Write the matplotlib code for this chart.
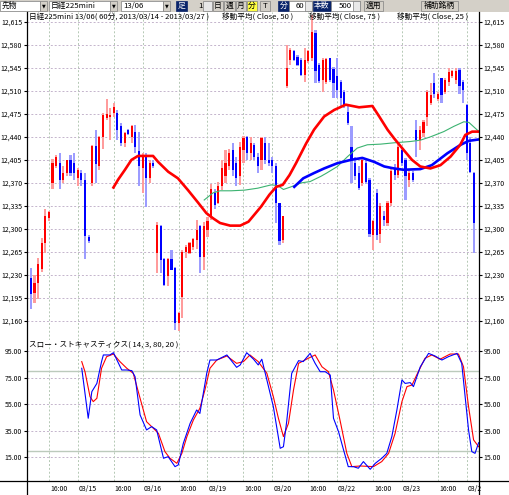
import matplotlib
matplotlib.use('Agg')
import matplotlib.pyplot as plt
from matplotlib.patches import Rectangle
from matplotlib.lines import Line2D
import numpy as np

plt.rcParams['font.family'] = ['Noto Sans CJK JP', 'DejaVu Sans']

# ---------------- data ----------------
opens = [12262, 12226, 12203, 12218, 12239, 12279, 12316, 12370, 12395, 12400,
         12375, 12385, 12405, 12400, 12378, 12385, 12375, 12287, 12370, 12426,
         12395, 12440, 12468, 12470, 12476, 12476, 12456, 12430, 12450, 12440,
         12448, 12418, 12392, 12410, 12378, 12400, 12263, 12304, 12254, 12228,
         12254, 12240, 12157, 12197, 12265, 12264, 12272, 12283, 12304, 12258,
         12298, 12318, 12354, 12340, 12365, 12380, 12395, 12420, 12400, 12380,
         12420, 12440, 12415, 12428, 12410, 12405, 12430, 12405, 12405, 12395,
         12339, 12283, 12518, 12557, 12570, 12562, 12557, 12534, 12555, 12560,
         12598, 12550, 12527, 12524, 12560, 12544, 12532, 12524, 12509, 12478,
         12425, 12400, 12385, 12370, 12400, 12375, 12290, 12354, 12293, 12320,
         12309, 12339, 12392, 12382, 12420, 12405, 12375, 12385, 12451, 12435,
         12446, 12471, 12491, 12522, 12497, 12529, 12509, 12524, 12532, 12527,
         12542, 12524, 12489, 12430, 12385]
highs = [12277, 12240, 12230, 12256, 12286, 12330, 12328, 12406, 12413, 12416,
         12395, 12405, 12412, 12416, 12393, 12390, 12385, 12290, 12428, 12451,
         12441, 12476, 12497, 12484, 12492, 12481, 12461, 12448, 12452, 12458,
         12458, 12448, 12415, 12416, 12405, 12405, 12311, 12306, 12256, 12256,
         12268, 12242, 12174, 12268, 12275, 12280, 12286, 12314, 12306, 12310,
         12318, 12368, 12360, 12372, 12405, 12420, 12422, 12430, 12410, 12432,
         12441, 12442, 12440, 12430, 12415, 12440, 12440, 12430, 12410, 12400,
         12340, 12320, 12580, 12575, 12572, 12564, 12560, 12575, 12572, 12625,
         12602, 12552, 12560, 12560, 12560, 12547, 12560, 12526, 12512, 12490,
         12456, 12410, 12395, 12410, 12405, 12378, 12314, 12360, 12340, 12328,
         12342, 12392, 12398, 12430, 12425, 12408, 12390, 12388, 12466, 12456,
         12466, 12512, 12522, 12537, 12508, 12530, 12530, 12545, 12542, 12545,
         12545, 12527, 12490, 12440, 12386]
lows = [12218, 12178, 12188, 12194, 12234, 12264, 12312, 12360, 12392, 12360,
        12370, 12380, 12380, 12375, 12365, 12365, 12254, 12279, 12365, 12370,
        12390, 12421, 12465, 12436, 12470, 12436, 12426, 12425, 12443, 12430,
        12415, 12365, 12354, 12334, 12370, 12392, 12233, 12233, 12213, 12213,
        12237, 12146, 12144, 12164, 12255, 12262, 12268, 12270, 12233, 12238,
        12288, 12314, 12330, 12338, 12359, 12370, 12390, 12380, 12365, 12367,
        12400, 12405, 12405, 12405, 12385, 12390, 12398, 12395, 12385, 12309,
        12276, 12278, 12514, 12550, 12555, 12548, 12532, 12524, 12552, 12555,
        12522, 12522, 12509, 12520, 12524, 12499, 12499, 12486, 12484, 12458,
        12370, 12375, 12359, 12365, 12368, 12288, 12268, 12283, 12278, 12305,
        12305, 12335, 12375, 12378, 12395, 12344, 12364, 12372, 12410, 12420,
        12440, 12456, 12489, 12499, 12495, 12491, 12505, 12518, 12530, 12520,
        12506, 12491, 12405, 12385, 12263]
closes = [12222, 12201, 12218, 12246, 12279, 12320, 12326, 12400, 12410, 12375,
          12385, 12405, 12385, 12385, 12390, 12375, 12289, 12281, 12426, 12398,
          12440, 12474, 12475, 12474, 12486, 12451, 12430, 12446, 12445, 12456,
          12425, 12395, 12410, 12378, 12400, 12395, 12306, 12253, 12215, 12254,
          12238, 12157, 12172, 12265, 12273, 12278, 12284, 12298, 12258, 12305,
          12312, 12360, 12336, 12365, 12392, 12400, 12415, 12390, 12378, 12425,
          12438, 12415, 12430, 12410, 12395, 12438, 12405, 12400, 12395, 12339,
          12281, 12319, 12545, 12572, 12557, 12550, 12534, 12557, 12570, 12600,
          12540, 12525, 12557, 12558, 12526, 12522, 12511, 12499, 12489, 12461,
          12405, 12380, 12362, 12405, 12372, 12292, 12312, 12290, 12335, 12314,
          12339, 12388, 12382, 12425, 12400, 12380, 12385, 12375, 12435, 12451,
          12463, 12509, 12504, 12506, 12506, 12504, 12527, 12539, 12540, 12540,
          12517, 12511, 12415, 12387, 12309]

ma25_x = [23.9, 25.2, 27.1, 28.9, 30.7, 34.9, 36.3, 39.1, 41.8, 44.6, 47.4, 49.7, 51.6,
          53.5, 56.3, 59.1, 61.4, 64.9, 67.2, 69.1, 70.9, 72.8, 74.6, 77.4, 79.6, 82.4,
          85.2, 88.4, 92.1, 95.8, 97.7, 100.0, 101.8, 104.5, 106.8, 109.1, 111.9, 114.7,
          117.5, 120.2, 121.6, 123.5, 125.2]
ma25_v = [12363, 12375, 12390, 12405, 12411, 12411, 12402, 12387, 12377, 12359, 12340,
          12324, 12316, 12309, 12305, 12305, 12311, 12334, 12352, 12364, 12367, 12382,
          12400, 12430, 12451, 12471, 12481, 12489, 12485, 12487, 12471, 12451, 12438,
          12420, 12405, 12395, 12392, 12397, 12410, 12428, 12443, 12448, 12448]

ma50_x = [49.1, 51.6, 53.5, 56.6, 60.3, 64.0, 67.7, 69.5, 71.1, 73.2, 76.0, 78.5, 81.5,
          83.1, 86.1, 88.9, 91.6, 94.4, 98.1, 101.8, 106.4, 109.1, 111.9, 115.6, 118.4,
          121.2, 122.6, 125.2]
ma50_v = [12344, 12355, 12358, 12358, 12359, 12362, 12367, 12366, 12360, 12364, 12370,
          12372, 12380, 12385, 12395, 12410, 12423, 12428, 12429, 12431, 12433, 12435,
          12440, 12448, 12456, 12463, 12462, 12449]

ma75_x = [74.1, 76.6, 79.6, 82.4, 86.1, 89.8, 93.0, 96.3, 99.1, 101.8, 104.4, 109.1,
          112.3, 116.6, 120.3, 122.6, 125.2]
ma75_v = [12364, 12377, 12385, 12392, 12400, 12405, 12408, 12402, 12395, 12392, 12390,
          12391, 12397, 12415, 12428, 12434, 12436]

k_x = [15.1, 16.9, 17.9, 19.3, 20.6, 21.1, 22.9, 23.9, 26.2, 27.6, 29.0, 29.9, 31.3,
       33.1, 34.5, 35.9, 37.8, 39.1, 41.0, 41.9, 43.3, 45.2, 47.0, 47.9, 49.8, 50.7,
       52.6, 55.4, 58.1, 59.1, 60.9, 62.8, 64.1, 65.1, 66.5, 68.3, 70.2, 71.1, 72.0,
       73.4, 75.3, 76.6, 78.5, 79.9, 81.3, 82.7, 84.1, 85.0, 86.4, 87.8, 89.1, 90.5,
       91.9, 93.3, 95.2, 96.6, 98.4, 99.8, 101.2, 102.6, 104.0, 104.9, 106.3, 107.2,
       109.1, 111.4, 113.2, 115.1, 116.9, 119.3, 120.6, 122.5, 123.4, 124.3, 125.3]
k_v = [82, 44.4, 64.4, 70.6, 87, 92, 92, 93.7, 80.7, 80.7, 80.2, 75.7, 46.9,
       35.6, 38.1, 35.6, 14.3, 15.5, 8, 9.3, 25.5, 40.6, 50.6, 48, 78.2, 88.2,
       88.2, 92, 82.7, 84.5, 93.7, 88.8, 84.5, 88.8, 73.2, 53.1, 21.8, 23, 41.8,
       78.2, 87.7, 87, 93.2, 85.7, 79.4, 79.4, 76.9, 44.4, 34.3, 20.5, 8, 8,
       6.8, 11.8, 6, 10.5, 14.3, 18, 30.6, 50.6, 73.2, 70.6, 71.2, 68.2,
       83.1, 93.2, 91.2, 88.2, 90.7, 93.2, 85.7, 35.6, 19.3, 18, 26]

d_x = [15.1, 16.0, 17.4, 18.3, 19.3, 20.6, 22.0, 23.9, 25.7, 27.6, 29.4, 31.3, 33.1,
       35.0, 36.4, 38.2, 39.6, 41.5, 42.9, 44.3, 46.1, 47.9, 49.3, 50.7, 52.6, 55.4,
       58.1, 60.0, 61.8, 64.1, 66.5, 68.3, 69.7, 71.1, 72.5, 73.9, 75.3, 78.0, 79.9,
       81.8, 83.6, 85.0, 86.8, 88.7, 90.1, 92.4, 96.1, 98.4, 100.3, 102.1, 104.0,
       105.4, 106.8, 108.1, 110.4, 112.3, 114.6, 117.4, 119.7, 121.1, 122.5, 123.9, 125.3]
d_v = [87, 79.4, 60.6, 56.9, 59.4, 82, 90.7, 92.7, 87, 82, 78.2, 59.4, 41.8,
       36.8, 33, 19.3, 14.3, 10.5, 18, 30.6, 43.1, 51.9, 65.7, 82, 88.2, 91.2,
       85.7, 87, 92, 87, 78.2, 60.6, 44.4, 30.6, 40.6, 65.7, 85.7, 89.5, 92,
       83.1, 79.4, 65.7, 43.1, 18, 8, 8.5, 8, 11.8, 18, 33, 56.9,
       68.2, 69.4, 76.9, 89.5, 92, 88.8, 92.7, 92.7, 83.1, 53.1, 28.1, 23]

price_ticks = [12160, 12195, 12230, 12265, 12300, 12335, 12370, 12405, 12440,
               12475, 12510, 12545, 12580, 12615]
stoch_ticks = [15, 35, 55, 75, 95]
stoch_levels = [80, 20]
time_pos = [6, 14, 24, 32, 42, 50, 60, 68, 78, 86, 96, 104, 114, 122]
time_labels = ["16:00", "03/15", "16:00", "03/16", "16:00", "03/19", "16:00",
               "03/20", "16:00", "03/22", "16:00", "03/23", "16:00", "03/2"]

title_main = "日経225mini 13/06( 60分, 2013/03/14 - 2013/03/27 )"
ma_titles = ["移動平均( Close, 50 )", "移動平均( Close, 75 )", "移動平均( Close, 25 )"]
title_stoch = "スロー・ストキャスティクス( 14, 3, 80, 20 )"

# ---------------- figure ----------------
W, H = 509, 495
fig = plt.figure(figsize=(W / 100, H / 100), dpi=100)
fig.patch.set_facecolor('white')


def fx(x):
    return x / W


def fy(y):
    return 1 - y / H


FS = 5.0
TFS = 5.5
HCOL = '#c4b4cc'
VCOL = '#b4c8b4'
DASH = (0, (2, 2))

L, R, T1, B1, T2, B2 = 27, 479, 12, 340, 341, 481

ax = fig.add_axes([fx(L), fy(B1), (R - L) / W, (B1 - T1) / H])
ax2 = fig.add_axes([fx(L), fy(B2), (R - L) / W, (B2 - T2) / H])

xlim = (-0.1, 125.4)
for a in (ax, ax2):
    a.set_xlim(*xlim)
    a.set_facecolor('white')
    for s in a.spines.values():
        s.set_visible(False)
    a.set_xticks([])

# ---- price panel ----
ax.set_ylim(12131, 12630)
for p in price_ticks:
    ax.axhline(p, color=HCOL, lw=0.7, ls=DASH, zorder=0)
for t in time_pos:
    ax.axvline(t, color=VCOL, lw=0.7, ls=DASH, zorder=0)

o = np.array(opens, float)
h = np.array(highs, float)
l = np.array(lows, float)
c = np.array(closes, float)
idx = np.arange(len(o))
up = c >= o
wick_col = np.where(up, '#ff9c9c', '#9c9cff')
body_col = np.where(up, '#ff0000', '#0000ff')
ax.bar(idx, h - l, bottom=l, width=0.6, color=wick_col, linewidth=0, zorder=2)
ax.bar(idx, np.maximum(np.abs(c - o), 1.5), bottom=np.minimum(o, c), width=0.6,
       color=body_col, linewidth=0, zorder=3)

ax.plot(ma50_x, ma50_v, color='#3cb371', lw=0.8, zorder=4)
ax.plot(ma75_x, ma75_v, color='#0000ff', lw=1.9, zorder=5)
ax.plot(ma25_x, ma25_v, color='#ff0000', lw=1.9, zorder=6)

ax.set_yticks(price_ticks)
ax.set_yticklabels([f"{p:,}" for p in price_ticks])
ax.tick_params(axis='y', which='both', left=True, right=True, labelleft=True,
               labelright=True, length=2.5, width=0.8, pad=1, labelsize=FS,
               colors='black')

# ---- stochastic panel ----
ax2.set_ylim(-2.8, 102.5)
for v in stoch_ticks:
    ax2.axhline(v, color=HCOL, lw=0.7, ls=DASH, zorder=0)
for t in time_pos:
    ax2.axvline(t, color=VCOL, lw=0.7, ls=DASH, zorder=0)
for v in stoch_levels:
    ax2.axhline(v, color='#bccabc', lw=1.0, zorder=1)
ax2.plot(d_x, d_v, color='#ff0000', lw=0.8, zorder=3)
ax2.plot(k_x, k_v, color='#0000ff', lw=0.8, zorder=4)
ax2.set_yticks(stoch_ticks)
ax2.set_yticklabels([f"{v:.2f}" for v in stoch_ticks])
ax2.tick_params(axis='y', which='both', left=True, right=True, labelleft=True,
                labelright=True, length=2.5, width=0.8, pad=1, labelsize=FS,
                colors='black')

# time labels
for t, lab in zip(time_pos, time_labels):
    xp = ax2.transData.transform((t, 0))[0]
    xf = fig.transFigure.inverted().transform((xp, 0))[0]
    fig.text(xf + 1 / W, fy(489), lab, fontsize=FS, ha='left', va='center')

# frame lines
fig.add_artist(Line2D([fx(L), fx(L)], [fy(T1), 0], color='black', lw=0.9))
fig.add_artist(Line2D([fx(R), fx(R)], [fy(T1), 0], color='black', lw=0.9))
fig.add_artist(Line2D([0, 1], [fy(B2), fy(B2)], color='black', lw=0.9))

# titles
fig.text(fx(29), fy(17), title_main, fontsize=TFS, ha='left', va='center')
for xpix, tt in zip([222, 309, 397], ma_titles):
    fig.text(fx(xpix), fy(17), tt, fontsize=TFS, ha='left', va='center')
fig.text(fx(29), fy(345), title_stoch, fontsize=TFS, ha='left', va='center')

# ---- toolbar ----
tb = fig.add_axes([0, fy(12), 1, 12 / H])
tb.set_xlim(0, W)
tb.set_ylim(12, 0)
tb.axis('off')
tb.add_patch(Rectangle((0, 0), W, 12, facecolor='#d4d0c8', edgecolor='none'))


def box(x0, x1, face, edge='#808080'):
    tb.add_patch(Rectangle((x0, 1), x1 - x0, 10, facecolor=face, edgecolor=edge, lw=0.5))


def txt(x, s, color='black', ha='left'):
    tb.text(x, 6.0, s, fontsize=5.6, color=color, ha=ha, va='center')


def arrow_btn(x0):
    box(x0, x0 + 7, '#d4d0c8')
    tb.text(x0 + 3.5, 6.2, '▼', fontsize=3.5, ha='center', va='center',
            family='DejaVu Sans')


box(0, 40, 'white'); txt(2, '先物'); arrow_btn(40)
box(49, 110, 'white'); txt(51, '日経225mini'); arrow_btn(110)
box(121, 163, 'white'); txt(123, '13/06'); arrow_btn(163)
box(176, 187, '#0a246a', '#0a246a'); txt(181.5, '足', 'white', 'center')
txt(198, '1'); box(203, 212, '#e8e8e8')
box(213, 223, '#d4d0c8'); txt(218, '日', ha='center')
box(224, 235, '#d4d0c8'); txt(229.5, '週', ha='center')
box(236, 246, '#d4d0c8'); txt(241, '月', ha='center')
box(247, 257, '#ffff40'); txt(252, '分', ha='center')
box(260, 270, '#d4d0c8'); txt(265, 'T', ha='center')
box(278, 289, '#0a246a', '#0a246a'); txt(283.5, '分', 'white', 'center')
box(289, 312, 'white'); txt(304, '60', ha='right'); box(305, 312, '#e8e8e8')
box(313, 331, '#0a246a', '#0a246a'); txt(322, '本数', 'white', 'center')
box(331, 360, 'white'); txt(352, '500', ha='right'); box(353, 360, '#e8e8e8')
box(364, 383, '#d4d0c8'); txt(373.5, '適用', ha='center')
box(421, 458, '#d4d0c8'); txt(439.5, '補助銘柄', ha='center')

fig.savefig('out.png', dpi=100, facecolor='white')
